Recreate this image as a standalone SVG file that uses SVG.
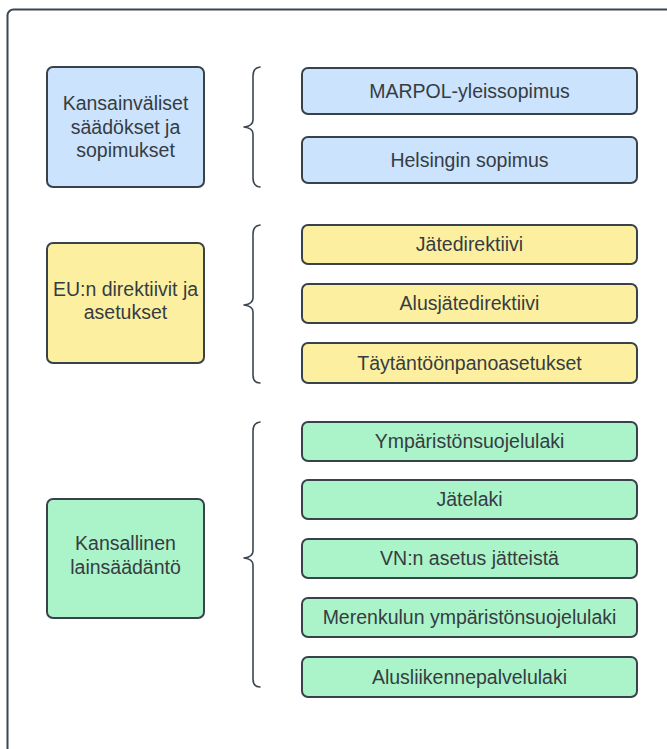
<svg xmlns="http://www.w3.org/2000/svg" width="667" height="749" viewBox="0 0 667 749">
<style>
.frame{fill:#ffffff;stroke:#3b4651;stroke-width:2}
.box{stroke:#38424b;stroke-width:2}
.blue{fill:#cbe3fd}
.yellow{fill:#fcf0a0}
.green{fill:#abf3c8}
.brace{fill:none;stroke:#3b4651;stroke-width:1.6;stroke-linecap:round;stroke-linejoin:round}
text{font-family:"Liberation Sans",Arial,sans-serif;font-size:19.5px;fill:#363c42;text-anchor:middle}
</style>
<rect x="0" y="0" width="667" height="749" fill="#ffffff"/>
<rect class="frame" x="7.5" y="9.5" width="700" height="800" rx="6"/>
<g id="connectors">
<path class="brace" d="M260,67 Q253,68 253,76 L253,120 Q253,126 244,127 Q253,128 253,134 L253,178 Q253,186 260,187"/>
<path class="brace" d="M260,225 Q253,226 253,234 L253,298 Q253,304 244,305 Q253,306 253,312 L253,375 Q253,383 260,383"/>
<path class="brace" d="M260,422 Q253,423 253,431 L253,551 Q253,557 244,558 Q253,559 253,565 L253,679 Q253,687 260,687"/>
</g>
<g id="intl">
<rect class="box blue" x="47" y="67" width="157" height="120" rx="6"/>
<text x="125.5" y="110">Kansainväliset</text>
<text x="125.5" y="133.5">säädökset ja</text>
<text x="125.5" y="157">sopimukset</text>
</g>
<g id="eu">
<rect class="box yellow" x="47" y="243" width="157" height="120" rx="6"/>
<text x="125.5" y="296">EU:n direktiivit ja</text>
<text x="125.5" y="319">asetukset</text>
</g>
<g id="national">
<rect class="box green" x="47" y="499" width="157" height="119" rx="6"/>
<text x="125.5" y="550">Kansallinen</text>
<text x="125.5" y="574">lainsäädäntö</text>
</g>
<g id="marpol">
<rect class="box blue" x="302" y="68" width="335" height="46" rx="6"/>
<text x="469.5" y="97.5">MARPOL-yleissopimus</text>
</g>
<g id="helsinki">
<rect class="box blue" x="302" y="137" width="335" height="46" rx="6"/>
<text x="469.5" y="166.5">Helsingin sopimus</text>
</g>
<g id="jatedirektiivi">
<rect class="box yellow" x="302" y="225" width="335" height="39" rx="6"/>
<text x="469.5" y="251">Jätedirektiivi</text>
</g>
<g id="alusjatedirektiivi">
<rect class="box yellow" x="302" y="284" width="335" height="39" rx="6"/>
<text x="469.5" y="310">Alusjätedirektiivi</text>
</g>
<g id="taytantoonpano">
<rect class="box yellow" x="302" y="343" width="335" height="40" rx="6"/>
<text x="469.5" y="369.5">Täytäntöönpanoasetukset</text>
</g>
<g id="ymparisto">
<rect class="box green" x="302" y="422" width="335" height="39" rx="6"/>
<text x="469.5" y="448">Ympäristönsuojelulaki</text>
</g>
<g id="jatelaki">
<rect class="box green" x="302" y="480" width="335" height="39" rx="6"/>
<text x="469.5" y="506">Jätelaki</text>
</g>
<g id="vn">
<rect class="box green" x="302" y="539" width="335" height="39" rx="6"/>
<text x="469.5" y="565">VN:n asetus jätteistä</text>
</g>
<g id="merenkulun">
<rect class="box green" x="302" y="598" width="335" height="39" rx="6"/>
<text x="469.5" y="624">Merenkulun ympäristönsuojelulaki</text>
</g>
<g id="alusliikenne">
<rect class="box green" x="302" y="657" width="335" height="40" rx="6"/>
<text x="469.5" y="683.5">Alusliikennepalvelulaki</text>
</g>
</svg>
